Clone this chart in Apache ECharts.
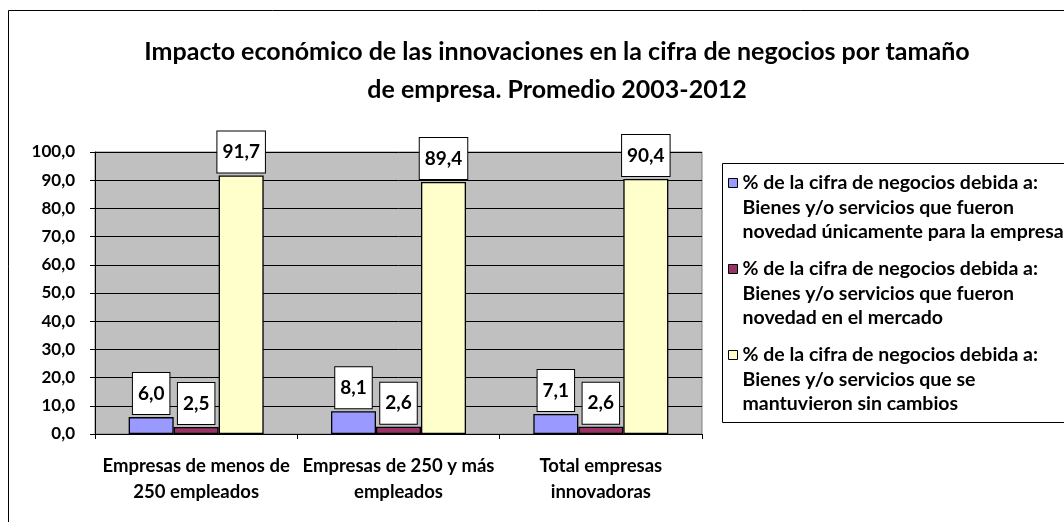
<!DOCTYPE html>
<html>
<head>
<meta charset="utf-8">
<script src="https://cdn.jsdelivr.net/npm/echarts@6/dist/echarts.min.js"></script>
<style>
	html, body { margin: 0; padding: 0; background: #fff; }
	#chart { width: 1064px; height: 522px; }
</style>
</head>
<body>
<div id="chart"></div>
<script>
// datos del gráfico
const categories = ['Empresas de menos de\n250 empleados', 'Empresas de 250 y más\nempleados', 'Total empresas\ninnovadoras']
const seriesNames = [
	'% de la cifra de negocios debida a:\nBienes y/o servicios que fueron\nnovedad únicamente para la empresa',
	'% de la cifra de negocios debida a:\nBienes y/o servicios que fueron\nnovedad en el mercado',
	'% de la cifra de negocios debida a:\nBienes y/o servicios que se\nmantuvieron sin cambios'
]
const novedadEmpresa = [6.0, 8.1, 7.1]
const novedadMercado = [2.5, 2.6, 2.6]
const sinCambios = [91.7, 89.4, 90.4]
const colors = ['#9999ff', '#993366', '#ffffcc']

const FONT = 'Lato'
const fmt = (v) => Number(v).toFixed(1).replace('.', ',')

const chart = echarts.init(document.getElementById('chart'), null, { renderer: 'canvas' })

const makeSeries = (name, data, color) => ({
	name: name,
	type: 'bar',
	data: data,
	barWidth: 45,
	barGap: '0%',
	itemStyle: {
		color: color,
		borderColor: '#000',
		borderWidth: 1.3
	},
	label: {
		show: true,
		position: 'top',
		distance: 3,
		formatter: (p) => fmt(p.value),
		color: '#000',
		fontFamily: FONT,
		fontWeight: 'bold',
		fontSize: 19,
		backgroundColor: '#fff',
		borderColor: '#000',
		borderWidth: 1,
		padding: [11, 5, 11, 5]
	}
})

const option = {
	animation: false,
	backgroundColor: '#fff',
	textStyle: { fontFamily: FONT },
	title: {
		text: 'Impacto económico de las innovaciones en la cifra de negocios por tamaño\nde empresa. Promedio 2003-2012',
		left: 552,
		top: 28,
		textAlign: 'center',
		textStyle: {
			fontFamily: FONT,
			fontWeight: 'bold',
			fontSize: 25,
			lineHeight: 38,
			color: '#000'
		}
	},
	graphic: [
		{
			type: 'rect',
			shape: { x: 8.5, y: 10.5, width: 1200, height: 700 },
			style: { fill: 'none', stroke: '#000', lineWidth: 1 },
			silent: true
		},
		{
			type: 'rect',
			shape: { x: 722.5, y: 163.5, width: 400, height: 259 },
			style: { fill: 'none', stroke: '#000', lineWidth: 1 },
			silent: true
		}
	],
	legend: {
		orient: 'vertical',
		left: 728,
		top: 121.75,
		padding: 0,
		itemWidth: 9,
		itemHeight: 9,
		itemGap: -36.5,
		icon: 'rect',
		itemStyle: { borderColor: '#000', borderWidth: 1 },
		// dos líneas vacías delante para que el icono quede a la altura de la primera línea
		formatter: (name) => '\n\n' + name,
		textStyle: {
			fontFamily: FONT,
			fontWeight: 'bold',
			fontSize: 19.5,
			lineHeight: 24.5,
			color: '#000'
		},
		data: seriesNames
	},
	grid: {
		left: 95,
		right: 362,
		top: 152,
		bottom: 88,
		show: true,
		backgroundColor: '#c0c0c0',
		borderColor: '#808080',
		borderWidth: 1
	},
	xAxis: {
		type: 'category',
		data: categories,
		axisLine: { lineStyle: { color: '#000', width: 1 } },
		axisTick: { show: true, length: 5, inside: false, lineStyle: { color: '#000' } },
		axisLabel: {
			interval: 0,
			margin: 19,
			color: '#000',
			fontFamily: FONT,
			fontWeight: 'bold',
			fontSize: 18.5,
			lineHeight: 26
		}
	},
	yAxis: {
		type: 'value',
		min: 0,
		max: 100,
		interval: 10,
		axisLine: { show: true, lineStyle: { color: '#000', width: 1 } },
		axisTick: { show: true, length: 5, lineStyle: { color: '#000' } },
		splitLine: { lineStyle: { color: '#000', width: 1 } },
		axisLabel: {
			margin: 20,
			color: '#000',
			fontFamily: FONT,
			fontWeight: 'bold',
			fontSize: 17,
			formatter: (v) => fmt(v)
		}
	},
	series: [
		makeSeries(seriesNames[0], novedadEmpresa, colors[0]),
		makeSeries(seriesNames[1], novedadMercado, colors[1]),
		makeSeries(seriesNames[2], sinCambios, colors[2])
	]
}

chart.setOption(option)
</script>
</body>
</html>
